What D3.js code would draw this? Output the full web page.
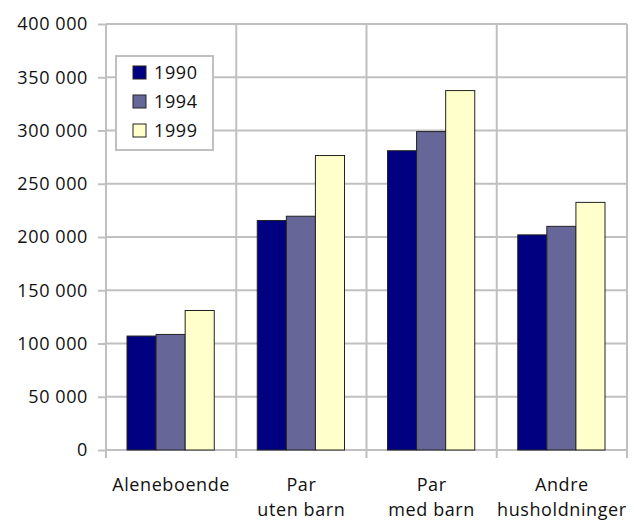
<!DOCTYPE html>
<html>
<head>
<meta charset="utf-8">
<script src="https://cdn.jsdelivr.net/npm/d3@7"></script>
<style>
  body { margin: 0; background: #fff; }
  text { font-family: "Open Sans", sans-serif; font-size: 18px; fill: #111; letter-spacing: 0.6px; }
</style>
</head>
<body>
<div class="svg_container"></div>
<script>
// data
var categories = [["Aleneboende"], ["Par", "uten barn"], ["Par", "med barn"], ["Andre", "husholdninger"]];
var years = ["1990", "1994", "1999"];
var values1990 = [107000, 215500, 281000, 202000];
var values1994 = [108500, 219500, 299000, 210000];
var values1999 = [131000, 276500, 337500, 232500];
var yTicks = [0, 50000, 100000, 150000, 200000, 250000, 300000, 350000, 400000];
var colors = ["#000080", "#666699", "#ffffcc"];

var series = [values1990, values1994, values1999];

// plot area
var margin = {top: 24, right: 7, bottom: 71, left: 106};
var width = 634 - margin.left - margin.right;
var height = 521 - margin.top - margin.bottom;

var svg = d3.select(".svg_container").append("svg")
    .attr("width", 634)
    .attr("height", 521)
  .append("g")
    .attr("transform", "translate(" + margin.left + "," + margin.top + ")");

var x0 = d3.scaleBand()
  .domain(d3.range(categories.length))
  .range([0, width])
  .paddingInner(0)
  .paddingOuter(0);

var x1 = d3.scaleBand()
  .domain(years)
  .range([21, x0.bandwidth() - 22]);

var yScale = d3.scaleLinear()
  .domain([0, 400000])
  .range([height, 0]);

var fmt = function(d) { return d3.format(",")(d).replace(/,/g, " "); };

// horizontal gridlines
svg.append("g")
  .selectAll("line")
  .data(yTicks)
  .enter().append("line")
    .attr("x1", 0).attr("x2", width)
    .attr("y1", function(d) { return yScale(d); })
    .attr("y2", function(d) { return yScale(d); })
    .attr("stroke", "#c0c0c0")
    .attr("stroke-width", 2);

// vertical gridlines on category boundaries
var bounds = d3.range(categories.length + 1).map(function(i) { return i * x0.bandwidth(); });
svg.append("g")
  .selectAll("line")
  .data(bounds)
  .enter().append("line")
    .attr("x1", function(d) { return d; }).attr("x2", function(d) { return d; })
    .attr("y1", 0).attr("y2", height + 8)
    .attr("stroke", "#c0c0c0")
    .attr("stroke-width", 2);

// y axis
var yAxis = svg.append("g")
  .call(d3.axisLeft(yScale).tickValues(yTicks).tickFormat(fmt).tickSize(8).tickPadding(10));
yAxis.select(".domain").attr("stroke", "#c0c0c0").attr("stroke-width", 2).attr("d", "M0,0V" + height);
yAxis.selectAll(".tick line").attr("stroke", "#c0c0c0").attr("stroke-width", 2);
yAxis.selectAll(".tick text").attr("font-size", 18).attr("font-family", "Open Sans").attr("fill", "#111");

// bars
var groups = svg.selectAll(".grp")
  .data(categories)
  .enter().append("g")
    .attr("class", "grp")
    .attr("transform", function(d, i) { return "translate(" + x0(i) + ",0)"; });

groups.selectAll("rect")
  .data(function(d, i) { return series.map(function(s, k) { return {year: years[k], value: s[i], k: k}; }); })
  .enter().append("rect")
    .attr("x", function(d) { return x1(d.year); })
    .attr("y", function(d) { return yScale(d.value); })
    .attr("width", x1.bandwidth())
    .attr("height", function(d) { return height - yScale(d.value); })
    .attr("fill", function(d) { return colors[d.k]; })
    .attr("stroke", "#222")
    .attr("stroke-width", 1);

// category labels
groups.each(function(lines) {
  var t = d3.select(this).append("text")
    .attr("text-anchor", "middle")
    .attr("x", x0.bandwidth() / 2)
    .attr("y", height + 41);
  lines.forEach(function(l, j) {
    t.append("tspan")
      .attr("x", x0.bandwidth() / 2)
      .attr("dy", j === 0 ? 0 : 25)
      .text(l);
  });
});

// legend
var legend = svg.append("g").attr("transform", "translate(10,32)");
legend.append("rect")
  .attr("width", 97).attr("height", 94)
  .attr("fill", "#fff")
  .attr("stroke", "#c0c0c0")
  .attr("stroke-width", 2);

var items = legend.selectAll(".item")
  .data(years)
  .enter().append("g")
    .attr("transform", function(d, i) { return "translate(17," + (10 + i * 29) + ")"; });

items.append("rect")
  .attr("width", 13).attr("height", 13)
  .attr("fill", function(d, i) { return colors[i]; })
  .attr("stroke", "#222");

items.append("text")
  .attr("x", 21)
  .attr("y", 13)
  .text(function(d) { return d; });
</script>
</body>
</html>
